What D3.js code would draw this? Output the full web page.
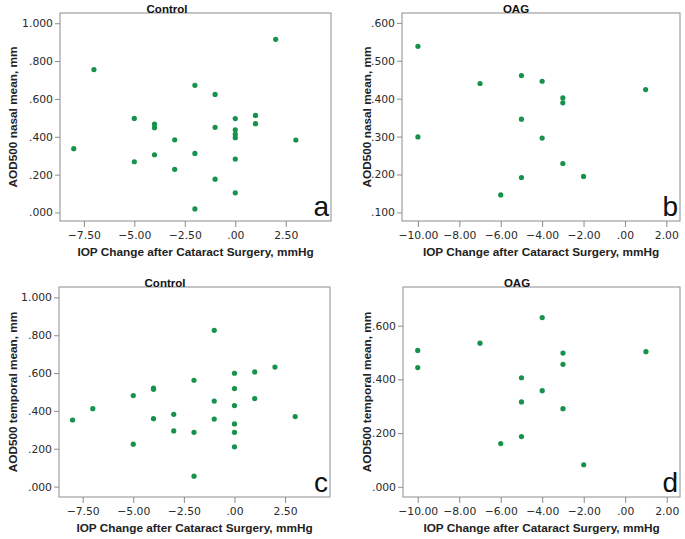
<!DOCTYPE html>
<html><head><meta charset="utf-8">
<script src="https://cdn.jsdelivr.net/npm/d3@7"></script>
<style>html,body{margin:0;padding:0;background:#fff}svg{display:block}</style>
</head><body>
<script>
// ---- data ----
const controlIOP = [-8,-7,-5,-5,-4,-4,-4,-3,-3,-2,-2,-2,-1,-1,-1,0,0,0,0,0,0,1,1,2,3];
const controlNasal = [0.337,0.755,0.497,0.268,0.467,0.448,0.305,0.384,0.228,0.672,0.312,0.019,0.624,0.450,0.176,0.496,0.437,0.414,0.395,0.282,0.104,0.513,0.469,0.915,0.383];
const controlTemporal = [0.352,0.412,0.481,0.224,0.520,0.514,0.359,0.382,0.294,0.562,0.287,0.055,0.826,0.452,0.357,0.599,0.518,0.428,0.331,0.287,0.210,0.606,0.465,0.632,0.370];
const oagIOP = [-10,-10,-7,-6,-5,-5,-5,-4,-4,-3,-3,-3,-2,1];
const oagNasal = [0.538,0.299,0.440,0.146,0.461,0.346,0.192,0.446,0.296,0.402,0.389,0.229,0.195,0.424];
const oagTemporal = [0.508,0.444,0.535,0.161,0.406,0.316,0.187,0.630,0.358,0.498,0.456,0.291,0.082,0.503];

const controlXTicks = [-7.5,-5,-2.5,0,2.5];
const oagXTicks = [-10,-8,-6,-4,-2,0,2];
const controlYTicks = [0,0.2,0.4,0.6,0.8,1.0];
const oagNasalYTicks = [0.1,0.2,0.3,0.4,0.5,0.6];
const oagTemporalYTicks = [0,0.2,0.4,0.6];

const panelTitles = ["Control","OAG","Control","OAG"];
const panelLetters = ["a","b","c","d"];
const yTitles = ["AOD500 nasal mean, mm","AOD500 nasal mean, mm","AOD500 temporal mean, mm","AOD500 temporal mean, mm"];
const xTitle = "IOP Change after Cataract Surgery, mmHg";

// ---- layout ----
const W = 685, H = 539;
const panels = [
  {x: controlIOP, y: controlNasal, xt: controlXTicks, yt: controlYTicks, xd: [-8.68,4.74], yd: [-0.045,1.054], f: {x0:60,x1:331,y0:13,y1:221}, cx:167, yl:13},
  {x: oagIOP, y: oagNasal, xt: oagXTicks, yt: oagNasalYTicks, xd: [-10.77,2.66], yd: [0.0773,0.626], f: {x0:402,x1:680,y0:13,y1:221}, cx:516, yl:367},
  {x: controlIOP, y: controlTemporal, xt: controlXTicks, yt: controlYTicks, xd: [-8.67,4.72], yd: [-0.055,1.055], f: {x0:59,x1:330,y0:287,y1:497}, cx:165, yl:13},
  {x: oagIOP, y: oagTemporal, xt: oagXTicks, yt: oagTemporalYTicks, xd: [-10.71,2.64], yd: [-0.038,0.744], f: {x0:403,x1:680,y0:287,y1:497}, cx:517, yl:367}
];

const fmtX = v => d3.format(".2f")(v).replace(/^(\u2212?)0\./, "$1.");
const fmtY = v => d3.format(".3f")(v).replace(/^(\u2212?)0\./, "$1.");

const svg = d3.select("body").append("svg").attr("width", W).attr("height", H);
const FONT = "'DejaVu Sans', sans-serif";
const TFONT = "'Liberation Sans', Arial, sans-serif";
const frameColor = "#8c8c8c";
const dotColor = "#17924c";

panels.forEach((p, i) => {
  const f = p.f;
  const xs = d3.scaleLinear().domain(p.xd).range([f.x0, f.x1]);
  const ys = d3.scaleLinear().domain(p.yd).range([f.y1, f.y0]);
  const g = svg.append("g");

  // axes
  const xa = g.append("g").attr("transform", `translate(0,${f.y1})`)
    .call(d3.axisBottom(xs).tickValues(p.xt).tickFormat(fmtX).tickSize(6).tickPadding(4));
  const ya = g.append("g").attr("transform", `translate(${f.x0},0)`)
    .call(d3.axisLeft(ys).tickValues(p.yt).tickFormat(fmtY).tickSize(5).tickPadding(2));
  [xa, ya].forEach(a => {
    a.select(".domain").remove();
    a.selectAll(".tick line").attr("stroke", frameColor);
    a.selectAll(".tick text").attr("fill", "#2a2a2a").style("font-family", FONT).style("font-size", "10.8px");
  });

  // frame
  g.append("rect").attr("x", f.x0).attr("y", f.y0).attr("width", f.x1 - f.x0).attr("height", f.y1 - f.y0)
    .attr("fill", "none").attr("stroke", frameColor).attr("stroke-width", 1);

  // points
  g.append("g").selectAll("circle").data(p.x.map((v, k) => [v, p.y[k]])).join("circle")
    .attr("cx", d => xs(d[0])).attr("cy", d => ys(d[1])).attr("r", 2.6).attr("fill", dotColor);

  // titles
  g.append("text").attr("x", p.cx).attr("y", f.y0 - 0.5).attr("text-anchor", "middle")
    .style("font-family", TFONT).style("font-size", "11.5px").style("font-weight", "bold").attr("fill", "#111")
    .text(panelTitles[i]);
  g.append("text").attr("x", (f.x0 + f.x1) / 2).attr("y", f.y1 + 35).attr("text-anchor", "middle")
    .style("font-family", TFONT).style("font-size", "11.8px").style("font-weight", "bold").attr("fill", "#222")
    .text(xTitle);
  g.append("text").attr("transform", `translate(${p.yl + 4},${(f.y0 + f.y1) / 2}) rotate(-90)`).attr("text-anchor", "middle")
    .style("font-family", TFONT).style("font-size", "11.8px").style("font-weight", "bold").attr("fill", "#222")
    .text(yTitles[i]);
  g.append("text").attr("x", f.x1 - 2).attr("y", f.y1 - 5.5).attr("text-anchor", "end")
    .style("font-family", TFONT).style("font-size", "28px").attr("fill", "#111")
    .text(panelLetters[i]);
});
</script>
</body></html>
